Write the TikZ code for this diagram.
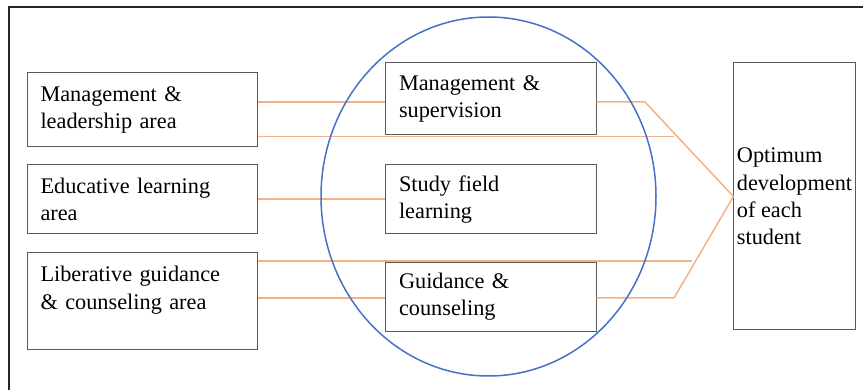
\documentclass[tikz,border=0pt]{standalone}
\usepackage{fontspec}
\setmainfont{Liberation Serif}
\usetikzlibrary{shapes.geometric}
\definecolor{boxgray}{HTML}{595959}
\definecolor{conor}{HTML}{F4B183}
\definecolor{ellblue}{HTML}{4472C4}
\definecolor{framecol}{HTML}{262626}
\begin{document}
\begin{tikzpicture}[x=1pt,y=-1pt,
  box/.style={draw=boxgray, line width=1pt, fill=white, inner xsep=13.5pt, inner ysep=0pt,
              align=left, font=\fontsize{22.3}{27.3}\selectfont},
  con/.style={draw=conor, line width=1.5pt},
  frameline/.style={draw=framecol, line width=2pt},
  ell/.style={draw=ellblue, line width=1.5pt, ellipse, inner sep=0pt}
]
\useasboundingbox (0,0) rectangle (863,390);
\draw[frameline] (9.3,391) -- (9.3,7.3) -- (864,7.3);

% left boxes
\node[box, text width=203pt, minimum height=74pt] (A) at (142,110) {Management \&\\leadership area};
\node[box, text width=203pt, minimum height=69pt] (B) at (142,199.5) {Educative learning\\area};
\node[box, text width=203pt, minimum height=97pt] (C) at (142,301.5) {Liberative guidance\\\& counseling area\\\mbox{}};

% middle boxes
\node[box, inner xsep=14pt, text width=183pt, minimum height=72pt] (M1) at (490.5,99) {Management \&\\supervision};
\node[box, inner xsep=14pt, text width=183pt, minimum height=69pt] (M2) at (490.5,199.5) {Study field\\learning};
\node[box, inner xsep=14pt, text width=183pt, minimum height=69pt] (M3) at (490.5,297) {Guidance \&\\counseling};

% right box
\node[box, inner xsep=3pt, minimum width=121pt, minimum height=267pt] (R) at (794.5,196.5) {Optimum\\development\\of each\\student};

% level coordinates
\coordinate (y1) at (0,102);
\coordinate (y2) at (0,136.5);
\coordinate (y3) at (0,199);
\coordinate (y4) at (0,261);
\coordinate (y5) at (0,298);
\coordinate (k1) at (645,102);
\coordinate (e2) at (674,136.5);
\coordinate (e4) at (692,261);
\coordinate (k5) at (674,298);

% connectors
\draw[con] (A.east |- y1) -- (M1.west |- y1);
\draw[con] (M1.east |- y1) -- (k1) -- (R.west);
\draw[con] (A.east |- y2) -- (e2);
\draw[con] (B.east |- y3) -- (M2.west |- y3);
\draw[con] (C.east |- y4) -- (e4);
\draw[con] (C.east |- y5) -- (M3.west |- y5);
\draw[con] (M3.east |- y5) -- (k5) -- (R.west);

% ellipse
\node[ell, minimum width=335pt, minimum height=359pt] (E) at (488.5,196.5) {};
\end{tikzpicture}
\end{document}
